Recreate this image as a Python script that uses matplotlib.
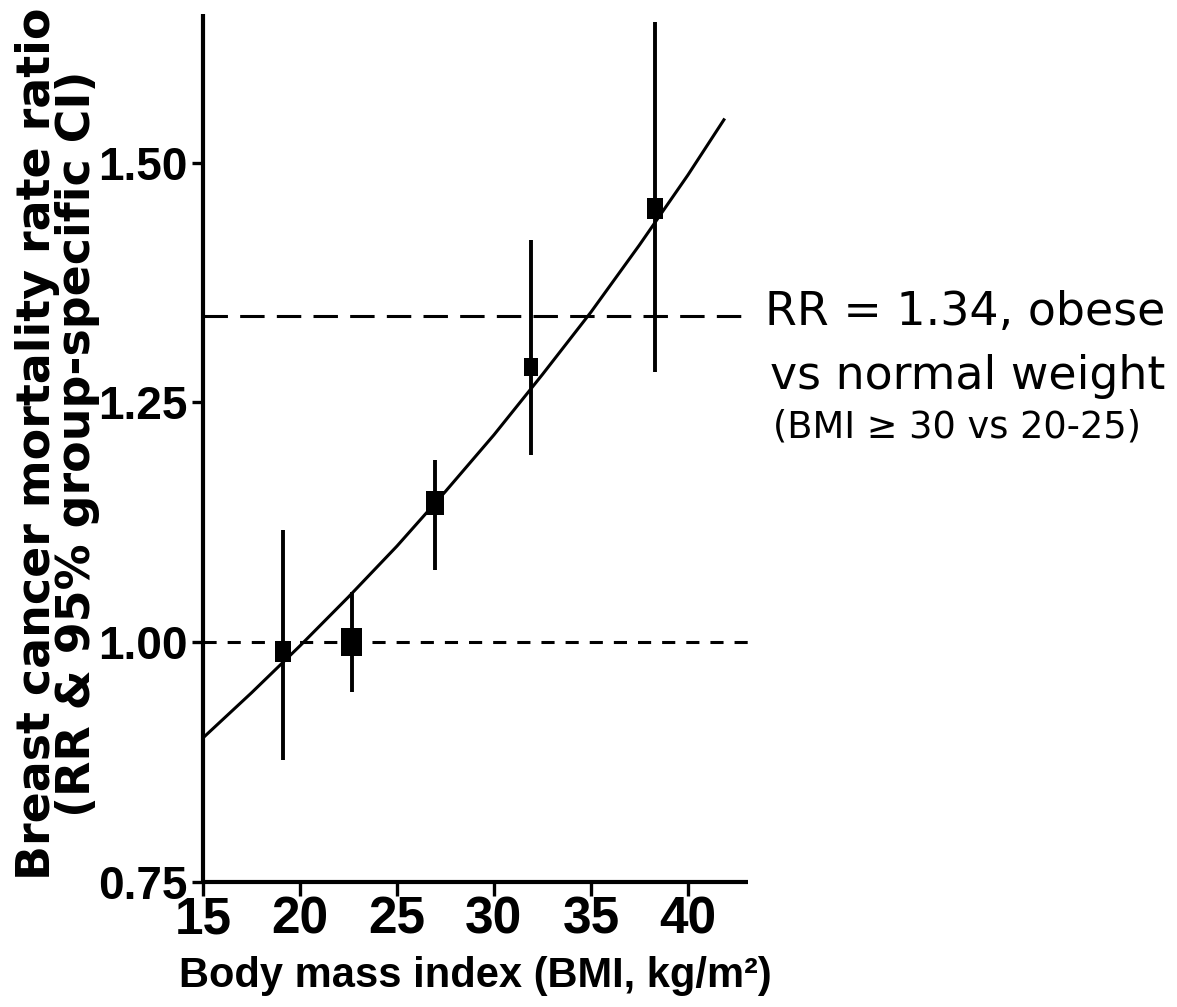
import matplotlib
matplotlib.use("Agg")
import matplotlib.pyplot as plt
from matplotlib.path import Path
from matplotlib.font_manager import FontProperties

# ---------------- data ----------------
bmi = [19.12, 22.66, 26.96, 31.90, 38.30]
rr = [0.990, 1.000, 1.145, 1.287, 1.452]
ci_low = [0.877, 0.948, 1.075, 1.195, 1.282]
ci_high = [1.117, 1.052, 1.190, 1.419, 1.647]
group_weight = [215, 390, 285, 175, 215]   # marker area (group weight)

curve_bmi = [15, 17.5, 20, 22.5, 25, 27.5, 30, 32.5, 35, 37.5, 40, 41.9]
curve_rr = [0.900, 0.947, 0.996, 1.047, 1.100, 1.157, 1.216, 1.279,
            1.344, 1.414, 1.487, 1.546]

x_ticks = [15, 20, 25, 30, 35, 40]
y_ticks = [0.75, 1.00, 1.25, 1.50]
y_tick_labels = ["0.75", "1.00", "1.25", "1.50"]
reference_rr = 1.00
obese_rr = 1.34

# ---------------- figure ----------------
W, H = 1177, 1007
fig = plt.figure(figsize=(W / 100, H / 100), dpi=100)
fig.patch.set_facecolor("white")
ax = fig.add_axes([203 / W, 1 - 881.7 / H, 545 / W, 867.7 / H])
ax.set_xlim(15, 43.1)
ax.set_ylim(0.75, 1.655)

# dashed reference lines
lw_d = 2.2
ax.axhline(obese_rr, color="black", lw=lw_d, dashes=(8.0, 4.0), zorder=1)
ax.axhline(reference_rr, color="black", lw=lw_d, dashes=(4.3, 3.6), zorder=1)

# fitted curve
ax.plot(curve_bmi, curve_rr, color="black", lw=2.2, zorder=2,
        solid_capstyle="butt", solid_joinstyle="round")

# error bars
yerr = [[r - lo for r, lo in zip(rr, ci_low)],
        [hi - r for r, hi in zip(rr, ci_high)]]
ax.errorbar(bmi, rr, yerr=yerr, fmt="none", ecolor="black", elinewidth=2.8,
            capsize=0, zorder=3)

# rectangular markers
rect = Path([(-0.38, -0.5), (0.38, -0.5), (0.38, 0.5), (-0.38, 0.5), (-0.38, -0.5)],
            [Path.MOVETO, Path.LINETO, Path.LINETO, Path.LINETO, Path.CLOSEPOLY])
ax.scatter(bmi, rr, s=group_weight, marker=rect, color="black",
           linewidths=0, zorder=4)

# axes styling
for side in ["top", "right"]:
    ax.spines[side].set_visible(False)
for side in ["left", "bottom"]:
    ax.spines[side].set_linewidth(3.0)
    ax.spines[side].set_capstyle("butt")

ax.set_xticks(x_ticks)
ax.set_yticks(y_ticks)
ax.set_yticklabels(y_tick_labels)
ax.tick_params(axis="y", length=8, width=2.4, pad=3, direction="out")
ax.tick_params(axis="x", length=10, width=2.4, pad=0, direction="out")

xtick_font = FontProperties(family=["Liberation Sans", "DejaVu Sans"],
                            weight="bold", size=37)
for lab in ax.get_xticklabels():
    lab.set_fontproperties(xtick_font)
ytick_font = FontProperties(family=["Liberation Sans", "DejaVu Sans"],
                            weight="bold", size=33)
for lab in ax.get_yticklabels():
    lab.set_fontproperties(ytick_font)

ax.set_xlabel("Body mass index (BMI, kg/m²)",
              fontproperties=FontProperties(family=["Liberation Sans", "DejaVu Sans"],
                                            weight="bold", size=30),
              labelpad=8)
ax.set_ylabel("Breast cancer mortality rate ratio\n(RR & 95% group-specific CI)",
              fontproperties=FontProperties(family=["DejaVu Sans"], weight="bold", size=33),
              linespacing=0.85)
ax.yaxis.set_label_coords((100 - 203) / 545, 0.505)

# annotation on the right
txt_font = dict(family=["DejaVu Sans"], color="black")
fig.text(965 / W, 1 - 325 / H, f"RR = {obese_rr:.2f}, obese", ha="center",
         va="baseline", fontsize=33, **txt_font)
fig.text(968 / W, 1 - 389 / H, "vs normal weight", ha="center",
         va="baseline", fontsize=33, **txt_font)
fig.text(957 / W, 1 - 437 / H, "(BMI ≥ 30 vs 20-25)", ha="center",
         va="baseline", fontsize=26.5, **txt_font)

fig.savefig("out.png", dpi=100, facecolor="white")
